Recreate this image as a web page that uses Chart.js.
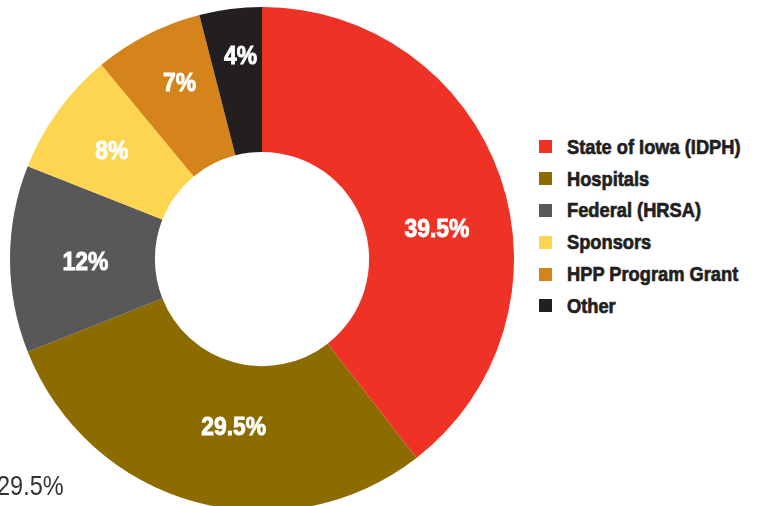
<!DOCTYPE html>
<html>
<head>
<meta charset="utf-8">
<script src="https://cdn.jsdelivr.net/npm/chart.js@4.4.1/dist/chart.umd.min.js"></script>
<style>
  html, body { margin: 0; padding: 0; width: 760px; height: 506px; overflow: hidden; background: #ffffff; }
  #wrap { position: absolute; left: 10px; top: 7px; width: 504px; height: 504px; }
  #legend { position: absolute; left: 539px; top: 131px; font-family: 'Liberation Sans', Arial, sans-serif; font-weight: bold; font-size: 21px; color: #231f20; }
  .item { height: 31.8px; display: flex; align-items: center; }
  .sw { width: 13px; height: 13px; margin-right: 15px; flex: none; }
  .tx { display: inline-block; transform: scaleX(0.87); transform-origin: left center; -webkit-text-stroke: 0.7px #231f20; white-space: nowrap; }
  #stray { position: absolute; left: -3px; top: 471px; font-family: 'Liberation Sans', Arial, sans-serif; font-size: 27px; color: #333333; transform: scaleX(0.87); transform-origin: left center; }
</style>
</head>
<body>
<div id="wrap"><canvas id="c" width="504" height="504"></canvas></div>
<div id="legend"></div>
<div id="stray">29.5%</div>
<script>
const categories = ['State of Iowa (IDPH)', 'Hospitals', 'Federal (HRSA)', 'Sponsors', 'HPP Program Grant', 'Other'];
const values = [39.5, 29.5, 12, 8, 7, 4];
const valueLabels = ['39.5%', '29.5%', '12%', '8%', '7%', '4%'];
const colors = ['#EE3326', '#8C6C00', '#58585A', '#FED550', '#D4841A', '#231F20'];

const legend = document.getElementById('legend');
categories.forEach((name, i) => {
  const it = document.createElement('div');
  it.className = 'item';
  const sw = document.createElement('span');
  sw.className = 'sw';
  sw.style.background = colors[i];
  const tx = document.createElement('span');
  tx.className = 'tx';
  tx.textContent = name;
  it.appendChild(sw);
  it.appendChild(tx);
  legend.appendChild(it);
});

const labelPlugin = {
  id: 'sliceLabels',
  afterDatasetsDraw(chart, args, opts) {
    const ctx = chart.ctx;
    const meta = chart.getDatasetMeta(0);
    ctx.save();
    ctx.font = "bold 26px 'Liberation Sans', Arial, sans-serif";
    ctx.fillStyle = '#ffffff';
    ctx.strokeStyle = '#ffffff';
    ctx.lineWidth = 0.9;
    ctx.textAlign = 'center';
    ctx.textBaseline = 'middle';
    meta.data.forEach((arc, i) => {
      const p = arc.getCenterPoint();
      const n = opts.nudge[i] || [0, 0];
      ctx.save();
      ctx.translate(p.x + n[0], p.y + n[1]);
      ctx.scale(0.88, 1);
      ctx.fillText(valueLabels[i], 0, 0);
      ctx.strokeText(valueLabels[i], 0, 0);
      ctx.restore();
    });
    ctx.restore();
  }
};

new Chart(document.getElementById('c'), {
  type: 'doughnut',
  data: {
    labels: categories,
    datasets: [{ data: values, backgroundColor: colors, borderWidth: 0 }]
  },
  options: {
    responsive: false,
    animation: false,
    cutout: '42.5%',
    layout: { padding: 0 },
    plugins: {
      legend: { display: false },
      tooltip: { enabled: false },
      sliceLabels: { nudge: [[5, 29], [19, -4], [3, 4], [-5, -2], [-1, -15], [1, -24]] }
    }
  },
  plugins: [labelPlugin]
});
</script>
</body>
</html>
